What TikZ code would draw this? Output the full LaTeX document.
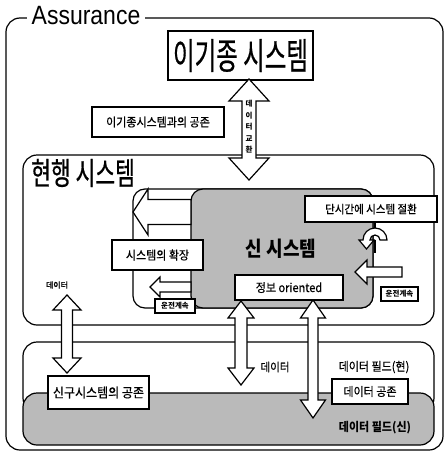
\documentclass[tikz,border=0pt]{standalone}
\usepackage{fontspec}
\usepackage{graphicx}
\setmainfont{Liberation Sans}
\newfontfamily\kr{Noto Sans CJK KR}
\newfontfamily\krm[FakeBold=0.6]{Noto Sans CJK KR}
\newcommand{\tallt}[2]{\scalebox{1}[#1]{#2}}
% vertical double block arrow: x, ytop, ybot, shaft half, head half, head length
\newcommand{\vdarrow}[6]{%
  \filldraw[blockarrow] (#1,#2) -- (#1+#5,#2+#6) -- (#1+#4,#2+#6) -- (#1+#4,#3-#6)
   -- (#1+#5,#3-#6) -- (#1,#3) -- (#1-#5,#3-#6) -- (#1-#4,#3-#6) -- (#1-#4,#2+#6)
   -- (#1-#5,#2+#6) -- cycle;}
% left-pointing block arrow: xtip, y, xtail, shaft half, head half, head length
\newcommand{\hlarrow}[6]{%
  \filldraw[blockarrow] (#1,#2) -- (#1+#6,#2-#5) -- (#1+#6,#2-#4) -- (#3,#2-#4)
   -- (#3,#2+#4) -- (#1+#6,#2+#4) -- (#1+#6,#2+#5) -- cycle;}
\tikzset{
  frame/.style={draw, line width=1.2pt, rounded corners=14pt},
  shaded/.style={frame, fill=black!27},
  blockarrow/.style={draw, fill=white, line width=1.2pt, line join=miter},
  lbl/.style={draw, fill=white, line width=1.2pt, inner sep=0pt, font=\krm\fontsize{11}{13}\selectfont},
  small/.style={draw, fill=white, line width=1.2pt, inner sep=0pt, font=\kr\bfseries\fontsize{7.5}{9}\selectfont},
  txt/.style={inner sep=0pt, font=\krm\fontsize{11}{13}\selectfont},
}
\begin{document}
\begin{tikzpicture}[x=1pt,y=-1pt]
\useasboundingbox (0,0) rectangle (446,453);
% outer frame
\draw[frame] (6,18) rectangle (443,450);
\node[fill=white, inner xsep=5pt, inner ysep=2pt, font=\fontsize{23}{26}\selectfont] (title) at (86,16) {\tallt{1.15}{Assurance}};
% data fields
\draw[frame, fill=white] (23,342) rectangle (434,412);
\draw[shaded] (23,393) rectangle (434,445);
% current system
\draw[frame, fill=white] (23,155) rectangle (434,325);
\node[inner sep=0pt, anchor=west, font=\krm\fontsize{21.5}{24}\selectfont] (cur) at (31,173) {\tallt{1.45}{현행 시스템}};
% inner container and new system
\draw[frame, rounded corners=12pt, fill=white] (133,189) rectangle (373,308);
\draw[shaded, rounded corners=12pt] (191,189) rectangle (373,308);
% top system
\node[draw, fill=white, line width=1.2pt, minimum width=145pt, minimum height=49pt, inner sep=0pt,
  font=\krm\fontsize{23.5}{26}\selectfont] (top) at (240.5,55.5) {\tallt{1.55}{이기종 시스템}};
% block arrows
\vdarrow{249}{79}{180}{7}{20}{22}
\node[inner sep=0pt, align=center, font=\kr\bfseries\fontsize{7.5}{11.5}\selectfont] (xchg) at (249,127) {데\\이\\터\\교\\환};
\hlarrow{133}{212}{191}{12.5}{23}{15}
\hlarrow{150}{287}{191}{5}{10}{10}
\hlarrow{355}{272}{402}{5}{12}{12}
\vdarrow{67}{295}{373}{5.5}{14}{15}
\vdarrow{241}{301}{385}{6}{13}{17}
\vdarrow{313}{300}{418}{5}{12.5}{18}
% U-turn arrow
\draw[line width=1.2pt] (375,222) -- (375,228);
\filldraw[blockarrow] (387,240) arc[start angle=0, end angle=-180, radius=12] -- (359,240) -- (366.5,249)
  -- (374,240) -- (370,240) arc[start angle=-180, end angle=0, radius=5] -- cycle;
\draw[line width=1.2pt] (375,240) -- (375,253);
% labels
\node[lbl, minimum width=132pt, minimum height=30pt] (coex) at (158,122) {\tallt{1.1}{이기종시스템과의 공존}};
\node[lbl, minimum width=91pt, minimum height=30pt] (ext) at (157.5,255) {\tallt{1.1}{시스템의 확장}};
\node[small, minimum width=40pt, minimum height=14pt] (run1) at (175,306) {운전계속};
\node[lbl, minimum width=108pt, minimum height=25pt] (info) at (289,287.5) {\tallt{1.1}{정보 oriented}};
\node[lbl, minimum width=132pt, minimum height=26pt, font=\krm\fontsize{10.5}{12}\selectfont] (switch) at (371,209) {\tallt{1.1}{단시간에 시스템 절환}};
\node[small, minimum width=37pt, minimum height=14pt] (run2) at (399.5,294) {운전계속};
\node[inner sep=0pt, font=\kr\bfseries\fontsize{18}{20}\selectfont] (newsys) at (281,249) {\tallt{1.15}{신 시스템}};
\node[lbl, minimum width=101pt, minimum height=33pt, font=\krm\fontsize{12}{14}\selectfont] (oldnew) at (98.5,392.5) {\tallt{1.1}{신구시스템의 공존}};
\node[lbl, minimum width=76pt, minimum height=25pt] (dcoex) at (370,391.5) {\tallt{1.1}{데이터 공존}};
\node[txt, font=\krm\fontsize{8}{9}\selectfont] (d1) at (57,285) {데이터};
\node[txt, font=\krm\fontsize{10.5}{12}\selectfont] (d2) at (275,367) {\tallt{1.1}{데이터}};
\node[txt] (fcur) at (374,367) {\tallt{1.1}{데이터 필드(현)}};
\node[txt, font=\kr\bfseries\fontsize{11}{13}\selectfont] (fnew) at (375,428) {\tallt{1.1}{데이터 필드(신)}};
\end{tikzpicture}
\end{document}
